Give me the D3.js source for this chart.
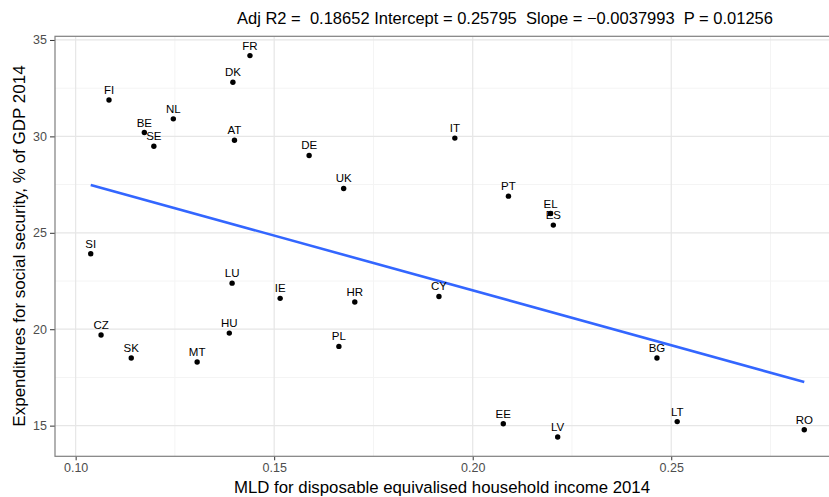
<!DOCTYPE html>
<html>
<head>
<meta charset="utf-8">
<script src="https://cdn.jsdelivr.net/npm/d3@7"></script>
<style>
  body { margin: 0; background: #fff; }
  text { font-family: "Liberation Sans", Arial, sans-serif; }
</style>
</head>
<body>
<svg id="chart" width="829" height="497"></svg>
<script>
// country codes, MLD income inequality, social security spending (% GDP)
var countries = ["FR", "DK", "FI", "NL", "BE", "SE", "AT", "DE", "UK", "SI", "LU", "IE", "HR", "CZ", "HU", "PL", "SK", "MT",
                 "IT", "PT", "EL", "ES", "CY", "BG", "EE", "LV", "LT", "RO"];
var mld = [0.1439, 0.1396, 0.1084, 0.1246, 0.1173, 0.1197, 0.1400, 0.1588, 0.1675, 0.1038, 0.1394, 0.1515, 0.1703, 0.1064,
           0.1387, 0.1663, 0.1140, 0.1306, 0.1955, 0.2090, 0.2196, 0.2203, 0.1915, 0.2464, 0.2077, 0.2214, 0.2515, 0.2835];
var spending = [34.19, 32.81, 31.89, 30.91, 30.20, 29.49, 29.80, 29.01, 27.30, 23.91, 22.39, 21.60, 21.41, 19.70,
                19.80, 19.11, 18.51, 18.30, 29.91, 26.90, 26.00, 25.40, 21.70, 18.51, 15.10, 14.41, 15.21, 14.79];

var xTicks = [0.10, 0.15, 0.20, 0.25];
var xMinor = [0.125, 0.175, 0.225, 0.275];
var yTicks = [15, 20, 25, 30, 35];
var yMinor = [17.5, 22.5, 27.5, 32.5];

var title = "Adj R2 =  0.18652 Intercept = 0.25795  Slope = \u22120.0037993  P = 0.01256";
var xTitle = "MLD for disposable equivalised household income 2014";
var yTitle = "Expenditures for social security, % of GDP 2014";

var data = countries.map(function (c, i) {
  return { code: c, x: mld[i], y: spending[i] };
});

var svg = d3.select("#chart");
var pLeft = 55, pRight = 840, pTop = 36.3, pBottom = 456.3;

var x = d3.scaleLinear().domain([0.0948, 0.2925]).range([pLeft, pRight]);
var y = d3.scaleLinear().domain([13.41, 35.19]).range([pBottom, pTop]);

// minor grid
svg.append("g").selectAll("line").data(xMinor).enter().append("line")
  .attr("x1", function (d) { return x(d); }).attr("x2", function (d) { return x(d); })
  .attr("y1", pTop).attr("y2", pBottom)
  .attr("stroke", "#f4f4f4").attr("stroke-width", 1);
svg.append("g").selectAll("line").data(yMinor).enter().append("line")
  .attr("y1", function (d) { return y(d); }).attr("y2", function (d) { return y(d); })
  .attr("x1", pLeft).attr("x2", pRight)
  .attr("stroke", "#f4f4f4").attr("stroke-width", 1);

// major grid
svg.append("g").selectAll("line").data(xTicks).enter().append("line")
  .attr("x1", function (d) { return x(d); }).attr("x2", function (d) { return x(d); })
  .attr("y1", pTop).attr("y2", pBottom)
  .attr("stroke", "#e6e6e6").attr("stroke-width", 1.2);
svg.append("g").selectAll("line").data(yTicks).enter().append("line")
  .attr("y1", function (d) { return y(d); }).attr("y2", function (d) { return y(d); })
  .attr("x1", pLeft).attr("x2", pRight)
  .attr("stroke", "#e6e6e6").attr("stroke-width", 1.2);

// axes
var xAxis = svg.append("g")
  .attr("transform", "translate(0," + pBottom + ")")
  .call(d3.axisBottom(x).tickValues(xTicks).tickFormat(d3.format(".2f")).tickSize(4).tickPadding(3));
var yAxis = svg.append("g")
  .attr("transform", "translate(" + pLeft + ",0)")
  .call(d3.axisLeft(y).tickValues(yTicks).tickSize(5).tickPadding(3));
[xAxis, yAxis].forEach(function (a) {
  a.select(".domain").remove();
  a.selectAll(".tick line").attr("stroke", "#333").attr("stroke-width", 1);
  a.selectAll(".tick text").attr("fill", "#4d4d4d")
    .style("font-size", "12.5px").style("font-family", "Liberation Sans, Arial, sans-serif");
});

// panel border
svg.append("rect")
  .attr("x", pLeft).attr("y", pTop)
  .attr("width", pRight - pLeft).attr("height", pBottom - pTop)
  .attr("fill", "none").attr("stroke", "#7f7f7f").attr("stroke-width", 1.2);

// regression line (least squares on the data)
var mx = d3.mean(data, function (d) { return d.x; });
var my = d3.mean(data, function (d) { return d.y; });
var sxy = d3.sum(data, function (d) { return (d.x - mx) * (d.y - my); });
var sxx = d3.sum(data, function (d) { return (d.x - mx) * (d.x - mx); });
var b = sxy / sxx, a0 = my - b * mx;
var ext = d3.extent(data, function (d) { return d.x; });

svg.append("line")
  .attr("x1", x(ext[0])).attr("y1", y(a0 + b * ext[0]))
  .attr("x2", x(ext[1])).attr("y2", y(a0 + b * ext[1]))
  .attr("stroke", "#3366ff").attr("stroke-width", 2.6);

// points + labels
svg.append("g").selectAll("circle").data(data).enter().append("circle")
  .attr("cx", function (d) { return x(d.x); })
  .attr("cy", function (d) { return y(d.y); })
  .attr("r", 2.7).attr("fill", "#000");

svg.append("g").selectAll("text").data(data).enter().append("text")
  .attr("x", function (d) { return x(d.x); })
  .attr("y", function (d) { return y(d.y) - 6; })
  .attr("text-anchor", "middle")
  .style("font-size", "11.5px")
  .attr("fill", "#000")
  .text(function (d) { return d.code; });

// titles
svg.append("text")
  .attr("x", 237).attr("y", 24)
  .style("font-size", "16.5px")
  .style("white-space", "pre")
  .attr("fill", "#000")
  .text(title);

svg.append("text")
  .attr("x", 442).attr("y", 493)
  .attr("text-anchor", "middle")
  .style("font-size", "16.8px")
  .attr("fill", "#000")
  .text(xTitle);

svg.append("text")
  .attr("transform", "translate(25,246) rotate(-90)")
  .attr("text-anchor", "middle")
  .style("font-size", "17px")
  .attr("fill", "#000")
  .text(yTitle);
</script>
</body>
</html>
